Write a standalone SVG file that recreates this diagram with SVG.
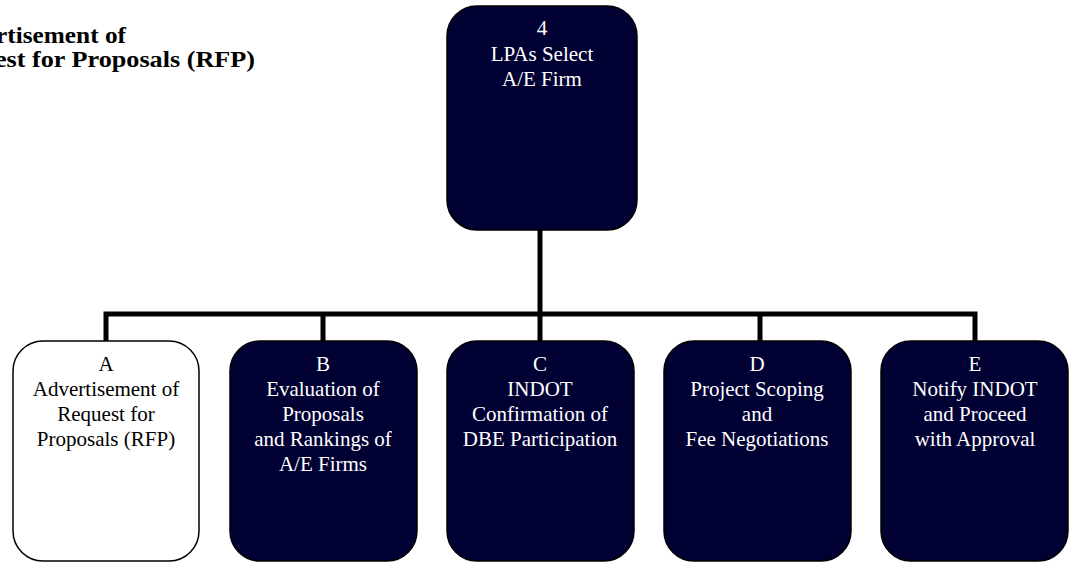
<svg xmlns="http://www.w3.org/2000/svg" width="1069" height="563" viewBox="0 0 1069 563">
<style>
.box{stroke:#000;stroke-width:1.5}
.dark{fill:#000033}
.light{fill:#fff}
.t{font-family:'Liberation Serif','Times New Roman',Tinos,'DejaVu Serif',serif;font-size:21px;text-anchor:middle}
.tw{fill:#fff}
.tb{fill:#000}
.title{font-family:'Liberation Serif','Times New Roman',Tinos,'DejaVu Serif',serif;font-size:23px;font-weight:bold;fill:#000}
.conn{stroke:#000;stroke-width:5;fill:none}
</style>
<rect width="1069" height="563" fill="#fff"/>
<g id="title">
<text class="title" x="-4" y="43" textLength="130" lengthAdjust="spacingAndGlyphs">rtisement of</text>
<text class="title" x="-5" y="67" textLength="260" lengthAdjust="spacingAndGlyphs">est for Proposals (RFP)</text>
</g>
<g id="connectors">
<path class="conn" d="M540,230 V314"/>
<path class="conn" d="M106,341 V314 H975 V341"/>
<path class="conn" d="M323,314 V341"/>
<path class="conn" d="M540,314 V341"/>
<path class="conn" d="M760,314 V341"/>
</g>
<g id="node4">
<rect class="box dark" x="447" y="6" width="190" height="224" rx="30" ry="30"/>
<text class="t tw" x="542" y="35">4</text>
<text class="t tw" x="542" y="61">LPAs Select</text>
<text class="t tw" x="542" y="86">A/E Firm</text>
</g>
<g id="nodeA">
<rect class="box light" x="13" y="341" width="186" height="220" rx="30" ry="30"/>
<text class="t tb" x="106" y="371">A</text>
<text class="t tb" x="106" y="396">Advertisement of</text>
<text class="t tb" x="106" y="421">Request for</text>
<text class="t tb" x="106" y="446">Proposals (RFP)</text>
</g>
<g id="nodeB">
<rect class="box dark" x="230" y="341" width="187" height="220" rx="30" ry="30"/>
<text class="t tw" x="323" y="371">B</text>
<text class="t tw" x="323" y="396">Evaluation of</text>
<text class="t tw" x="323" y="421">Proposals</text>
<text class="t tw" x="323" y="446">and Rankings of</text>
<text class="t tw" x="323" y="471">A/E Firms</text>
</g>
<g id="nodeC">
<rect class="box dark" x="447" y="341" width="187" height="220" rx="30" ry="30"/>
<text class="t tw" x="540" y="371">C</text>
<text class="t tw" x="540" y="396">INDOT</text>
<text class="t tw" x="540" y="421">Confirmation of</text>
<text class="t tw" x="540" y="446">DBE Participation</text>
</g>
<g id="nodeD">
<rect class="box dark" x="664" y="341" width="187" height="220" rx="30" ry="30"/>
<text class="t tw" x="757" y="371">D</text>
<text class="t tw" x="757" y="396">Project Scoping</text>
<text class="t tw" x="757" y="421">and</text>
<text class="t tw" x="757" y="446">Fee Negotiations</text>
</g>
<g id="nodeE">
<rect class="box dark" x="881" y="341" width="187" height="220" rx="30" ry="30"/>
<text class="t tw" x="975" y="371">E</text>
<text class="t tw" x="975" y="396">Notify INDOT</text>
<text class="t tw" x="975" y="421">and Proceed</text>
<text class="t tw" x="975" y="446">with Approval</text>
</g>
</svg>
